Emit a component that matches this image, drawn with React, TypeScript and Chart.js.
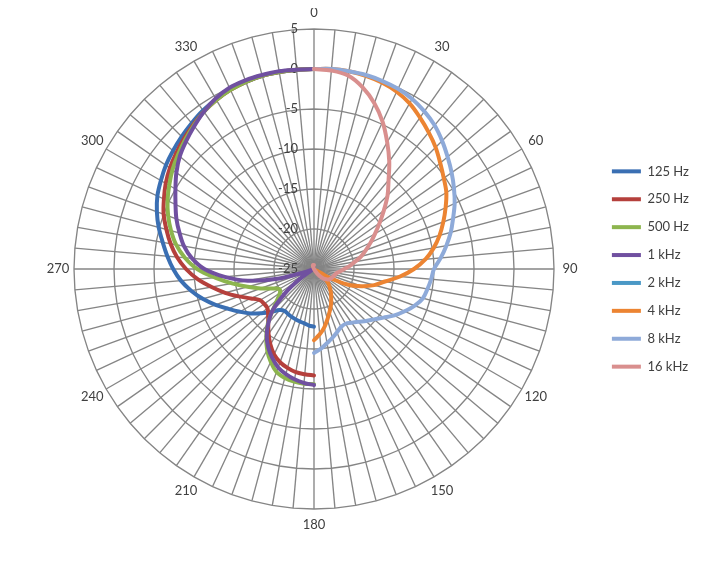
import React, { useEffect, useRef } from 'react';
import { Chart, registerables } from 'chart.js';

Chart.register(...registerables);

// Categories: direction in degrees, every 5 degrees
const ANGLES = [
  '0', '5', '10', '15', '20', '25', '30', '35', '40', '45', '50', '55',
  '60', '65', '70', '75', '80', '85', '90', '95', '100', '105', '110', '115',
  '120', '125', '130', '135', '140', '145', '150', '155', '160', '165', '170', '175',
  '180', '185', '190', '195', '200', '205', '210', '215', '220', '225', '230', '235',
  '240', '245', '250', '255', '260', '265', '270', '275', '280', '285', '290', '295',
  '300', '305', '310', '315', '320', '325', '330', '335', '340', '345', '350', '355',
];
const ANGLE_LABEL_STEP = 30;
const TICK_VALUES = [5, 0, -5, -10, -15, -20, -25];
const R_MIN = -25;
const R_MAX = 5;

const SERIES_NAMES = ['125 Hz', '250 Hz', '500 Hz', '1 kHz', '2 kHz', '4 kHz', '8 kHz', '16 kHz'];
const SERIES_COLORS = ['#3A6FB3', '#B5403C', '#8DB54E', '#7050A0', '#4A98C6', '#EC8432', '#8EAAD9', '#D98F8E'];

// Left-side series: values at 180, 185, ..., 355 and finally 0 degrees
const HZ125 = [-17.8, -17.9, -18.1, -18.2, -18.3, -18.4, -18.5, -18.6, -18.3, -17.4, -16.4, -15.3, -14.3, -13.2, -11.9, -10.6, -9.4, -8.3, -7.4, -6.6, -5.8, -4.9, -4.1, -3.4, -2.9, -2.4, -2.0, -1.6, -1.2, -0.8, -0.5, -0.25, -0.1, 0, 0, 0, 0];
const HZ250 = [-11.7, -11.8, -11.9, -12.2, -12.6, -13.2, -14.1, -15.1, -16.1, -16.9, -17.4, -17.4, -17.2, -16.3, -15.0, -13.5, -12.0, -10.4, -9.0, -7.8, -6.8, -5.9, -5.0, -4.3, -3.6, -3.0, -2.5, -2.0, -1.5, -1.0, -0.6, -0.3, -0.1, 0, 0, 0, 0];
const HZ500 = [-10.6, -10.6, -10.7, -10.9, -11.3, -12.2, -13.3, -14.6, -16.0, -17.7, -19.0, -19.8, -20.0, -19.2, -17.9, -16.4, -14.6, -12.6, -10.4, -8.8, -7.5, -6.5, -5.6, -4.8, -4.1, -3.4, -2.8, -2.2, -1.6, -1.0, -0.6, -0.3, -0.1, 0, 0, 0, 0];
const KHZ1 = [-10.5, -10.7, -11.0, -11.4, -11.9, -12.7, -13.6, -14.7, -16.1, -17.7, -20.3, -22.8, -24.5, -25.0, -24.0, -20.3, -16.6, -13.8, -11.3, -9.7, -8.5, -7.6, -6.7, -5.9, -5.0, -4.0, -3.1, -2.4, -1.7, -1.0, -0.4, 0, 0.1, 0.1, 0.1, 0, 0];
// 2 kHz: no visible trace in the reference
const KHZ2: number[] = [];
// Right-side series: values at 0, 5, ..., 180 degrees
const KHZ4 = [0, 0.1, 0.1, 0, -0.2, -0.55, -1.1, -1.9, -2.7, -3.5, -4.4, -5.2, -5.9, -6.85, -7.8, -8.75, -9.8, -11.0, -12.5, -14.2, -16.0, -17.2, -18.7, -20.4, -23.0, -24.8, -23.3, -22.5, -21.9, -21.3, -20.7, -20.0, -19.3, -18.5, -17.6, -16.8, -16.1];
const KHZ8 = [0, 0.1, 0.1, 0.1, 0, -0.15, -0.45, -0.95, -1.55, -2.35, -3.2, -4.0, -4.8, -5.6, -6.5, -7.3, -8.2, -9.1, -10.0, -10.3, -10.6, -10.9, -11.6, -12.5, -13.4, -14.4, -15.2, -15.8, -16.4, -16.8, -17.1, -17.0, -16.6, -16.1, -15.6, -15.0, -14.5];
const KHZ16 = [0, -0.1, -0.45, -1.5, -2.95, -4.7, -6.7, -8.6, -10.5, -12.0, -13.6, -15.0, -16.2, -17.2, -18.1, -18.9, -19.8, -20.5, -21.2, -21.7, -22.1, -22.3, -22.4, -22.5, -22.6, -22.7, -23.0, -23.3, -23.8, -24.3, -24.8, -25.2, -25.4, -25.5, -25.5, -25.5, -25.5];

// map a back-half (180..355, 0) list onto the 72 categories
function backHalf(vals: number[]): (number | null)[] {
  return ANGLES.map((_, i) => {
    if (vals.length === 0) return null;
    if (i === 0) return vals[36];
    if (i >= 36) return vals[i - 36];
    return null;
  });
}
// map a front-half (0..180) list onto the 72 categories
function frontHalf(vals: number[]): (number | null)[] {
  return ANGLES.map((_, i) => (i <= 36 && vals.length ? vals[i] : null));
}

const SERIES_DATA = [
  backHalf(HZ125),
  backHalf(HZ250),
  backHalf(HZ500),
  backHalf(KHZ1),
  backHalf(KHZ2),
  frontHalf(KHZ4),
  frontHalf(KHZ8),
  frontHalf(KHZ16),
];

const FONT_FAMILY = 'Lato, "Open Sans", sans-serif';
const TEXT_COLOR = '#404040';
const GRID_COLOR = '#858585';

const labelPlugin = {
  id: 'polarLabels',
  beforeDatasetsDraw(chart: any) {
    const r = chart.scales.r;
    const ctx = chart.ctx;
    ctx.save();
    ctx.font = `13px ${FONT_FAMILY}`;
    ctx.fillStyle = TEXT_COLOR;
    ctx.textAlign = 'right';
    ctx.textBaseline = 'middle';
    TICK_VALUES.forEach((v) => {
      const d = r.getDistanceFromCenterForValue(v);
      ctx.fillText(String(v), r.xCenter - 16, r.yCenter - d);
    });
    ctx.textAlign = 'center';
    (chart.data.labels as string[]).forEach((lab, i) => {
      if (Number(lab) % ANGLE_LABEL_STEP !== 0) return;
      const p = r.getPointPosition(i, r.drawingArea + 16);
      ctx.fillText(lab, p.x, p.y);
    });
    ctx.restore();
  },
};

export default function App() {
  const canvasRef = useRef<HTMLCanvasElement | null>(null);

  useEffect(() => {
    if (!canvasRef.current) return;
    const chart = new Chart(canvasRef.current, {
      type: 'radar',
      data: {
        labels: ANGLES,
        datasets: SERIES_NAMES.map((name, k) => ({
          label: name,
          data: SERIES_DATA[k],
          borderColor: SERIES_COLORS[k],
          backgroundColor: SERIES_COLORS[k],
          borderWidth: 4,
          borderCapStyle: 'round',
          borderJoinStyle: 'round',
          pointRadius: 0,
          pointHoverRadius: 0,
          pointHitRadius: 0,
          fill: false,
          tension: 0.35,
          spanGaps: false,
          order: SERIES_NAMES.length - k,
        })) as any,
      },
      options: {
        animation: false,
        responsive: false,
        events: [],
        layout: { padding: { top: 21, bottom: 52, left: 24, right: 15 } },
        plugins: {
          tooltip: { enabled: false },
          legend: {
            position: 'right',
            labels: {
              usePointStyle: true,
              pointStyle: 'line',
              pointStyleWidth: 29,
              padding: 14.9,
              color: TEXT_COLOR,
              font: { size: 13, family: FONT_FAMILY },
              sort: (a: any, b: any) => a.datasetIndex - b.datasetIndex,
            },
          },
        },
        scales: {
          r: {
            min: R_MIN,
            max: R_MAX,
            startAngle: 0,
            ticks: { display: false, stepSize: 5 },
            pointLabels: { display: false },
            grid: { color: GRID_COLOR, lineWidth: 1.35, circular: false },
            angleLines: { color: GRID_COLOR, lineWidth: 1.35 },
          },
        },
      } as any,
      plugins: [labelPlugin],
    });
    return () => chart.destroy();
  }, []);

  return (
    <div style={{ width: 706, height: 553 }}>
      <canvas ref={canvasRef} width={706} height={553} style={{ display: 'block' }} />
    </div>
  );
}
